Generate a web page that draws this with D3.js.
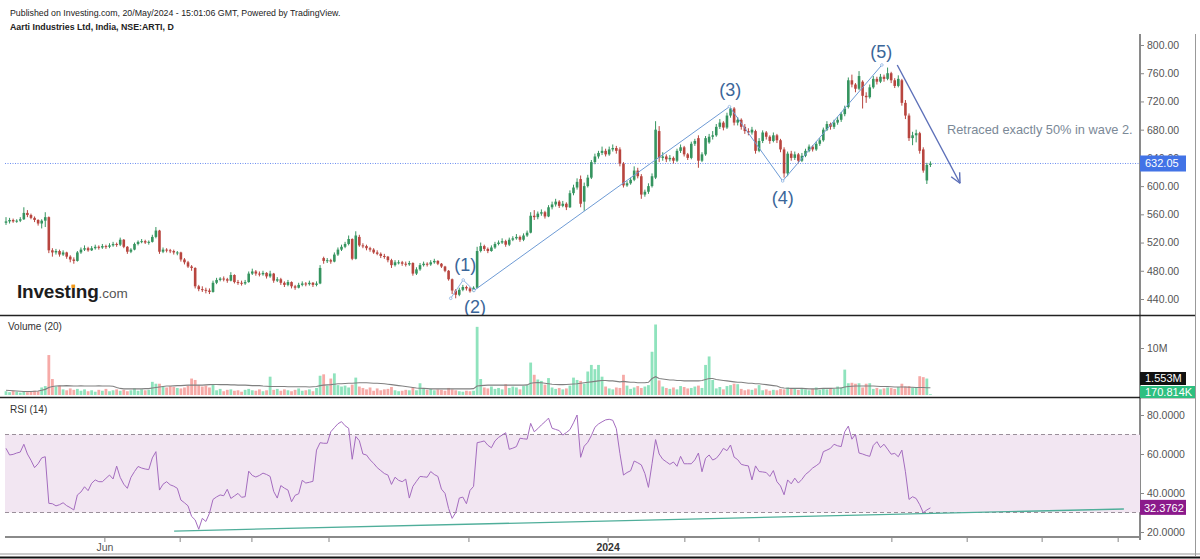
<!DOCTYPE html>
<html><head><meta charset="utf-8">
<script src="https://cdn.jsdelivr.net/npm/d3@7"></script>
<style>body{margin:0;background:#fff}svg{display:block;font-family:"Liberation Sans",Arial,sans-serif}</style>
</head><body><svg id="c" width="1200" height="559"></svg>
<script>
const opens = [548,550,552,550,551,553,562,559,555,552,547,551,556,509,506,508,503,506,500,496,
494,506,510,512,509,512,514,513,515,514,516,518,517,524,514,507,510,518,521,522,
520,521,528,537,507,510,509,508,506,506,496,492,486,484,458,454,453,452,450,463,
467,469,468,466,474,464,463,462,464,476,479,476,475,477,472,476,466,468,463,460,
464,458,456,460,462,461,463,460,462,498,494,495,493,503,510,514,518,525,497,528,
516,515,512,510,506,504,501,500,495,488,492,492,490,489,491,476,482,488,490,489,
492,494,490,486,480,468,452,446,453,457,455,451,456,508,515,511,508,513,518,520,
522,517,524,526,528,524,530,534,558,556,561,563,557,570,574,578,572,575,570,590,
598,610,578,600,612,634,642,647,650,645,652,654,652,632,601,604,609,622,614,588,
592,600,612,678,640,642,638,640,636,650,655,645,640,660,668,636,645,662,670,672,
684,690,683,700,710,690,694,684,678,676,678,650,664,676,670,664,672,665,652,618,
646,640,645,636,643,650,656,652,660,665,680,688,684,690,694,702,712,750,744,738,
748,728,726,740,752,748,755,752,760,750,742,750,718,700,668,672,675,652,608,630];
const highs = [556,555,554,553,556,570,566,561,557,553,553,563,557,512,511,510,509,507,502,499,
508,513,516,514,515,517,516,518,517,519,521,520,527,525,515,512,520,523,525,524,
523,531,542,538,513,512,511,510,508,507,498,494,488,485,460,458,456,455,466,470,
471,472,470,478,475,467,466,467,479,483,481,479,480,478,480,477,471,470,465,467,
465,460,463,465,464,466,464,465,488,500,498,497,506,513,517,521,530,526,536,531,
519,517,514,512,509,506,504,501,497,495,495,494,493,494,492,485,491,493,492,495,
497,495,491,487,481,469,454,456,460,459,457,458,514,520,517,513,516,521,523,526,
524,527,529,532,530,533,537,563,566,564,567,565,573,578,582,580,579,577,594,602,
611,615,605,616,637,646,650,656,653,656,659,657,655,634,607,612,628,626,617,595,
604,618,692,685,648,645,644,642,653,659,657,647,663,667,672,648,671,674,678,688,
695,692,704,713,712,698,696,688,682,684,680,668,679,678,672,676,674,667,655,649,
650,649,647,647,653,659,658,663,668,683,692,690,694,698,705,714,754,758,746,763,
750,733,744,756,755,759,758,768,762,753,757,752,722,703,677,680,677,655,633,635];
const lows = [545,547,548,548,549,552,556,553,549,544,540,542,505,500,503,500,501,497,492,490,
493,504,508,507,508,510,510,511,511,512,514,514,515,512,504,505,509,516,519,518,
517,520,526,504,505,506,505,503,502,493,489,484,480,455,451,450,448,447,449,461,
465,465,463,465,462,460,459,460,463,474,473,472,473,469,470,463,464,460,457,458,
455,453,455,458,458,459,457,458,461,490,491,490,492,501,508,512,516,495,496,514,
512,509,507,504,502,498,497,492,484,486,489,487,486,487,473,474,480,486,486,487,
490,488,484,478,466,447,441,444,451,452,449,450,455,506,508,505,507,511,516,518,
514,515,522,524,521,522,528,533,552,553,558,554,556,567,571,569,570,566,569,587,
595,570,565,598,610,631,639,644,642,643,649,646,628,598,599,602,607,611,582,585,
589,598,610,634,636,634,635,632,634,647,642,637,638,657,626,634,643,660,666,670,
681,679,681,697,686,686,680,674,672,673,646,648,661,666,660,662,661,648,612,614,
636,637,632,634,641,648,649,650,657,663,678,680,681,687,691,699,710,740,733,736,
710,718,724,738,744,746,748,750,746,739,740,714,695,664,658,662,646,619,603,627];
const closes = [550,552,550,551,553,562,559,555,552,547,551,556,509,506,508,503,506,500,496,494,
506,510,512,509,512,514,513,515,514,516,518,517,524,514,507,510,518,521,522,520,
521,528,537,507,510,509,508,506,506,496,492,486,484,458,454,453,452,450,463,467,
469,468,466,474,464,463,462,464,476,479,476,475,477,472,476,466,468,463,460,464,
458,456,460,462,461,463,460,462,484,494,495,493,503,510,514,518,525,497,530,516,
515,512,510,506,504,501,500,495,488,492,492,490,489,491,476,482,488,490,489,492,
494,490,486,480,468,452,446,453,457,455,451,456,508,515,511,508,513,518,520,522,
517,524,526,528,524,530,534,558,556,561,563,557,570,574,578,572,575,570,590,598,
606,575,600,612,634,642,647,650,645,652,654,650,632,601,604,609,622,614,588,592,
600,614,680,640,642,638,640,636,650,655,645,640,660,664,636,645,668,670,672,684,
690,683,700,710,690,694,684,678,676,680,650,664,676,670,664,672,665,652,618,646,
640,645,636,643,650,656,652,660,665,680,688,684,690,694,702,710,750,744,738,756,
728,726,740,752,748,755,752,760,750,742,752,718,700,668,672,675,650,622,630,632.05];
// volume in millions
const volumes = [0.8,0.6,0.9,0.7,0.5,0.8,0.6,0.7,0.9,0.8,1.6,1.9,8.5,3.4,1.8,2.0,1.2,1.0,1.4,1.1,
1.3,0.9,1.2,0.8,1.0,0.7,1.1,0.9,1.3,0.8,1.0,1.2,0.9,1.1,0.8,1.0,1.4,0.9,1.2,1.0,
1.1,2.8,2.4,2.4,1.8,1.6,1.9,1.7,1.5,1.4,1.6,2.0,3.5,3.2,2.1,1.8,2.0,1.6,2.2,1.0,
1.3,0.8,1.1,1.2,0.9,1.0,0.7,1.1,1.3,1.0,0.9,1.2,0.8,1.0,3.9,1.1,1.3,0.9,1.2,1.0,
0.8,1.1,1.4,0.9,1.0,1.2,0.8,1.5,4.1,4.4,2.0,3.5,4.6,2.1,1.8,2.0,1.6,2.2,3.7,1.8,
1.5,1.2,1.6,0.9,1.4,1.0,1.2,1.3,1.7,1.0,0.8,0.9,1.1,1.0,1.6,1.0,2.5,1.4,1.1,1.3,
1.0,1.2,1.1,0.9,1.5,1.2,1.0,0.8,0.7,0.9,0.8,0.9,14.5,3.4,1.6,1.4,1.8,1.3,1.5,1.2,
2.3,1.5,1.8,1.6,1.2,1.9,2.1,6.9,4.3,3.3,3.0,2.2,3.6,1.6,1.3,1.5,1.2,1.4,2.0,3.7,
3.2,3.0,2.4,5.0,6.4,5.5,6.4,3.9,1.8,1.4,1.2,1.6,1.5,4.3,2.0,1.3,1.6,1.9,1.5,1.8,
2.1,9.2,15.0,3.1,1.8,1.5,1.3,1.6,1.2,1.9,1.7,1.4,1.5,1.8,2.0,1.5,6.4,8.2,3.2,1.4,
1.7,1.2,1.9,2.1,2.4,2.3,1.3,1.0,1.2,1.1,1.4,2.1,1.0,1.2,0.9,1.1,1.0,1.3,1.2,1.6,
1.4,1.3,1.1,1.5,1.2,1.0,1.3,1.6,1.1,1.4,1.2,1.5,1.3,1.8,1.6,5.4,2.5,2.6,2.4,2.5,
1.6,2.4,2.5,1.3,1.5,1.2,1.4,1.6,1.5,1.3,1.7,2.4,1.8,1.9,1.6,1.7,4.0,3.8,3.5,0.170814];
const volumeMA = [1.0,0.95,0.9,0.85,0.8,0.75,0.75,0.75,0.8,0.85,1.0,1.2,1.6,1.8,1.9,1.95,1.95,2.0,1.95,1.9,
1.9,1.95,1.9,1.9,1.9,1.9,1.95,1.9,1.9,1.9,1.85,1.6,1.4,1.3,1.3,1.3,1.3,1.3,1.3,1.35,
1.35,1.5,1.6,1.7,1.8,1.9,1.9,1.95,2.0,2.0,2.05,2.1,2.1,2.1,2.1,2.1,2.15,2.2,2.25,2.25,
2.2,2.2,2.2,2.15,2.15,2.1,2.1,2.1,2.05,2.0,2.0,2.0,1.9,1.85,1.8,1.8,1.8,1.8,1.8,1.75,
1.75,1.75,1.75,1.75,1.75,1.7,1.75,1.8,2.0,2.1,2.15,2.2,2.3,2.4,2.4,2.45,2.5,2.5,2.55,2.6,
2.6,2.6,2.55,2.5,2.5,2.45,2.4,2.3,2.2,2.1,2.0,1.9,1.8,1.7,1.6,1.5,1.45,1.4,1.35,1.3,
1.3,1.3,1.3,1.3,1.3,1.3,1.3,1.3,1.3,1.3,1.3,1.35,1.9,2.0,2.05,2.1,2.1,2.1,2.1,2.1,
2.1,2.1,2.1,2.1,2.1,2.1,2.15,2.5,2.6,2.65,2.6,2.5,2.4,2.3,2.25,2.2,2.2,2.25,2.3,2.35,
2.4,2.5,2.6,2.7,2.8,2.9,3.0,3.1,3.1,3.0,3.0,2.9,2.8,2.9,2.8,2.7,2.7,2.6,2.6,2.6,
2.7,3.5,3.9,3.5,3.4,3.3,3.2,3.2,3.1,3.1,3.0,3.0,3.0,3.0,3.0,3.1,3.3,3.5,3.5,3.3,
3.2,3.1,3.0,2.9,2.8,2.7,2.7,2.6,2.5,2.5,2.4,2.4,2.3,2.2,2.1,2.0,1.9,1.6,1.5,1.45,
1.4,1.4,1.4,1.4,1.35,1.3,1.3,1.3,1.35,1.4,1.4,1.4,1.45,1.5,1.5,1.7,1.8,1.85,1.9,1.9,
1.9,1.9,1.9,1.9,1.85,1.8,1.8,1.8,1.75,1.7,1.7,1.7,1.7,1.65,1.65,1.6,1.6,1.6,1.55,1.553];
const rsi = [62.9,59.5,59.8,60.5,61,65,60,56.8,53,55,58,58.6,34.7,34.5,33.4,34,35,33.5,32.5,31.3,
39,40.5,43.2,41.2,45,46.7,45.8,45.8,47.5,49.2,47.2,53.8,48,44.5,42.4,48,51,53.6,52.8,52.3,
52,58,61.2,41.5,44.5,45.8,44.2,43.5,42.4,36.4,35,33.4,28,26.2,21.4,27,25.4,29.6,36.7,38,
39,38.6,41.9,37.2,38.5,39.8,37.8,38.1,51.2,49,48.2,49,50.2,49.5,48.5,40.8,37.4,43.8,42.5,41.5,
35.5,38.8,39.6,46.5,45.1,45.5,46,62,65.8,65.5,65.5,71.4,73.5,75.5,76.6,74.5,73.2,57.3,69,66.8,
60,59.5,57,55.2,53,51.5,50,49.2,44.4,48.1,46.5,45.8,47.1,37.4,43.4,46,48.5,48.3,48.1,51,
49.5,48.5,42,39.8,32.1,27,30,37.4,37.9,34.5,41.3,43.4,65.8,66.2,66.7,64.5,63.2,66.7,68.5,69.7,
70.9,62.4,63,63.8,68.1,67.8,67.6,75.7,71.4,73,74.9,76.5,78.4,73.2,72.6,72,69.7,71,72.5,76,
80,58.3,64,66,69.4,73.7,75.4,76.5,77.5,77.8,77.3,73,60.3,49.2,50.5,51.4,56.4,55.5,54.4,50,
42.9,55,67.4,60,57.3,56,54.7,55.9,53.7,58.8,55,55,55,57,60.5,50.9,57.8,59.5,56.9,57.8,
60,62.9,61.7,64.6,58.4,57.1,54.7,54.2,53.9,46.7,53.9,51,50.8,50.5,48.5,51.5,45.8,43.6,39.1,46.7,
44.7,47.6,45.1,47,49.5,51,52.8,54,55.4,61.2,62,62.9,65,64.2,63.8,71.4,74.3,67.6,70.1,60.5,
60,59.3,58.8,64.4,66.3,63.3,65,62.5,59.9,60.3,58.6,62,50.9,36.7,38.1,37.2,34,29.9,31.3,32.3762];

const priceTicks = [440,480,520,560,600,640,680,720,760,800];
const volumeTicks = [10];
const rsiTicks = [20,40,60,80];
const timeTickIndex = [27.7,48.8,68.9,90.5,129.7,168.7,190.2,211,248.2,269.3,290.3,311.6];
const timeTickLabels = ["Jun","","","","","2024","","","","","",""];
const lastPrice = 632.05;
// Elliott wave annotation (bar index, price)
const waveIdx = [124.6,128.1,131.1,202.7,217.6,245.4];
const wavePrice = [441,467,452,712.6,607.3,771.7];
const waveLabels = ["(1)","(2)","(3)","(4)","(5)"];
const waveLabelIdx = [128.7,131.4,202.9,217.6,245.2];
const waveLabelPrice = [479.7,420,727.7,574.6,780.9];
const arrowIdx = [249.7,267.3];
const arrowPrice = [771.7,604];
const noteText = "Retraced exactly 50% in wave 2.";
const rsiTrendIdx = [47.1,313.2];
const rsiTrendVal = [20.5,31.8];

const svg = d3.select("#c");
const AX = 1140;
const x = d3.scaleLinear().domain([0,318]).range([6,1141]);
const y = d3.scaleLinear().domain([440,800]).range([299,45]);
const yv = d3.scaleLinear().domain([0,10]).range([395,348]);
const yr = d3.scaleLinear().domain([20,80]).range([532,415]);
const UP = "#35945f", DN = "#b8453f";

// header
svg.append("text").attr("x",10).attr("y",15.5).attr("font-size",8.8).attr("fill","#222")
  .text("Published on Investing.com, 20/May/2024 - 15:01:06 GMT, Powered by TradingView.");
svg.append("text").attr("x",10).attr("y",29.5).attr("font-size",8.8).attr("font-weight","bold").attr("fill","#222")
  .text("Aarti Industries Ltd, India, NSE:ARTI, D");

const defs = svg.append("defs");
defs.append("clipPath").attr("id","mainclip").append("rect").attr("x",0).attr("y",34).attr("width",AX).attr("height",281);

// watermark logo
const logo = svg.append("text").attr("x",17).attr("y",298).attr("fill","#1d1d1d");
const logoMain = logo.append("tspan").attr("font-size",19).attr("font-weight","bold").attr("letter-spacing",-0.2).text("Investing");
logo.append("tspan").attr("font-size",13.5).attr("fill","#555").text(".com");
try {
  const ext = logoMain.node().getExtentOfChar(6);
  svg.append("rect").attr("x",ext.x+ext.width/2-1.8).attr("y",ext.y+ext.height*0.17)
    .attr("width",3.6).attr("height",3.4).attr("fill","#f29a1d");
} catch(e) {}

const main = svg.append("g").attr("clip-path","url(#mainclip)");
// last price dotted line
main.append("line").attr("x1",5).attr("x2",AX).attr("y1",y(lastPrice)).attr("y2",y(lastPrice))
  .attr("stroke","#6d8ff0").attr("stroke-width",1).attr("stroke-dasharray","1,1.5");

// candles
const idx = d3.range(closes.length);
const cg = main.append("g");
cg.selectAll("line.w").data(idx).join("line")
  .attr("x1",i=>x(i)).attr("x2",i=>x(i)).attr("y1",i=>y(highs[i])).attr("y2",i=>y(lows[i]))
  .attr("stroke",i=>closes[i]>=opens[i]?UP:DN).attr("stroke-width",1);
cg.selectAll("rect").data(idx).join("rect")
  .attr("x",i=>x(i)-1.3).attr("width",2.6)
  .attr("y",i=>y(Math.max(opens[i],closes[i])))
  .attr("height",i=>Math.max(1,Math.abs(y(opens[i])-y(closes[i]))))
  .attr("fill",i=>closes[i]>=opens[i]?UP:DN);

// wave lines
const wline = d3.line().x(d=>x(d[0])).y(d=>y(d[1]));
const wpts = waveIdx.map((v,k)=>[v,wavePrice[k]]);
main.append("path").attr("d",wline(wpts.slice(0,3))).attr("fill","none").attr("stroke","#8db3e2").attr("stroke-width",1);
main.append("path").attr("d",wline(wpts.slice(2))).attr("fill","none").attr("stroke","#6e9bd5").attr("stroke-width",1);
main.selectAll("circle.wp").data(wpts).join("circle").attr("cx",d=>x(d[0])).attr("cy",d=>y(d[1])).attr("r",1.3)
  .attr("fill","#fff").attr("stroke","#8db3e2").attr("stroke-width",0.8);
// arrow
const ax1 = x(arrowIdx[0]), ay1 = y(arrowPrice[0]), ax2 = x(arrowIdx[1]), ay2 = y(arrowPrice[1]);
main.append("line").attr("x1",ax1).attr("y1",ay1).attr("x2",ax2).attr("y2",ay2).attr("stroke","#5c6fb8").attr("stroke-width",1.4);
const ang = Math.atan2(ay2-ay1, ax2-ax1);
[0.45,-0.45].forEach(da=>{
  main.append("line").attr("x1",ax2).attr("y1",ay2)
    .attr("x2",ax2-11*Math.cos(ang+da)).attr("y2",ay2-11*Math.sin(ang+da))
    .attr("stroke","#5c6fb8").attr("stroke-width",1.4);
});
// wave labels
main.selectAll("text.wl").data(waveLabels).join("text")
  .attr("x",(d,k)=>x(waveLabelIdx[k])).attr("y",(d,k)=>y(waveLabelPrice[k]))
  .attr("text-anchor","middle").attr("font-size",18).attr("fill","#3b6699").text(d=>d);
main.append("text").attr("x",947).attr("y",134).attr("font-size",12.8).attr("fill","#7b8997").text(noteText);

// price axis
svg.append("line").attr("x1",AX).attr("x2",AX).attr("y1",34).attr("y2",540).attr("stroke","#8a8a8a").attr("stroke-width",2);
const pa = svg.append("g").attr("transform",`translate(${AX},0)`)
  .call(d3.axisRight(y).tickValues(priceTicks).tickFormat(d3.format(".2f")).tickSize(4).tickPadding(3));
const va = svg.append("g").attr("transform",`translate(${AX},0)`)
  .call(d3.axisRight(yv).tickValues(volumeTicks).tickFormat(d=>d+"M").tickSize(4).tickPadding(3));
const ra = svg.append("g").attr("transform",`translate(${AX},0)`)
  .call(d3.axisRight(yr).tickValues(rsiTicks).tickFormat(d3.format(".4f")).tickSize(4).tickPadding(3));
[pa,va,ra].forEach(g=>{
  g.select(".domain").remove();
  g.selectAll("line").attr("stroke","#888");
  g.selectAll("text").attr("fill","#555").attr("font-size",10.5).attr("font-family","'Liberation Sans',Arial,sans-serif");
});

function tag(yc, w, bg, txt){
  svg.append("rect").attr("x",AX).attr("y",yc-8).attr("width",w).attr("height",16).attr("fill",bg);
  svg.append("text").attr("x",AX+5).attr("y",yc+4).attr("font-size",11).attr("fill","#fff").text(txt);
}
tag(y(lastPrice), 46, "#4273e6", d3.format(".2f")(lastPrice));

// separators
svg.append("line").attr("x1",0).attr("x2",1195).attr("y1",315.5).attr("y2",315.5).attr("stroke","#222").attr("stroke-width",1.5);
svg.append("line").attr("x1",0).attr("x2",1195).attr("y1",397.5).attr("y2",397.5).attr("stroke","#222").attr("stroke-width",1.5);

// volume pane
svg.append("text").attr("x",8).attr("y",330).attr("font-size",10).attr("fill","#333").text("Volume (20)");
const vg = svg.append("g");
vg.selectAll("rect").data(idx).join("rect")
  .attr("x",i=>x(i)-1.4).attr("width",2.8)
  .attr("y",i=>yv(volumes[i])).attr("height",i=>yv(0)-yv(volumes[i]))
  .attr("fill",i=>closes[i]>=opens[i]?"#8fe3bd":"#f6aaa7");
vg.append("path").datum(idx).attr("d",d3.line().x(i=>x(i)).y(i=>yv(volumeMA[i])))
  .attr("fill","none").attr("stroke","#808080").attr("stroke-width",1.1);
svg.append("rect").attr("x",AX).attr("y",372).attr("width",46).attr("height",13).attr("fill","#111");
svg.append("text").attr("x",AX+5).attr("y",382).attr("font-size",11).attr("fill","#fff").text(volumeMA[volumeMA.length-1]+"M");
svg.append("rect").attr("x",AX).attr("y",386).attr("width",55).attr("height",12).attr("fill","#2dbf80");
svg.append("text").attr("x",AX+5).attr("y",396).attr("font-size",11).attr("fill","#fff").text(d3.format(".3f")(volumes[volumes.length-1]*1000)+"K");

// RSI pane
svg.append("text").attr("x",10).attr("y",413).attr("font-size",10).attr("fill","#333").text("RSI (14)");
svg.append("rect").attr("x",5).attr("y",yr(70)).attr("width",AX-5).attr("height",yr(30)-yr(70)).attr("fill","#f2e6f2");
[70,30].forEach(v=>svg.append("line").attr("x1",5).attr("x2",AX).attr("y1",yr(v)).attr("y2",yr(v))
  .attr("stroke","#9a8f9a").attr("stroke-width",1).attr("stroke-dasharray","4,3"));
svg.append("path").datum(idx).attr("d",d3.line().x(i=>x(i)).y(i=>yr(rsi[i])))
  .attr("fill","none").attr("stroke","#a46cbf").attr("stroke-width",1);
svg.append("line").attr("x1",x(rsiTrendIdx[0])).attr("y1",yr(rsiTrendVal[0])).attr("x2",x(rsiTrendIdx[1])).attr("y2",yr(rsiTrendVal[1]))
  .attr("stroke","#4fae9a").attr("stroke-width",1.3);
svg.append("rect").attr("x",AX).attr("y",yr(rsi[rsi.length-1])-8).attr("width",46).attr("height",15).attr("fill","#8b1a8b");
svg.append("text").attr("x",AX+4).attr("y",yr(rsi[rsi.length-1])+4).attr("font-size",11).attr("fill","#fff").text(d3.format(".4f")(rsi[rsi.length-1]));

// time axis
svg.append("line").attr("x1",5).attr("x2",AX).attr("y1",537).attr("y2",537).attr("stroke","#8a8a8a").attr("stroke-width",2);
svg.selectAll("line.tt").data(timeTickIndex).join("line").attr("class","tt")
  .attr("x1",d=>x(d)).attr("x2",d=>x(d)).attr("y1",538).attr("y2",542).attr("stroke","#888");
svg.selectAll("text.tl").data(timeTickIndex).join("text").attr("class","tl")
  .attr("x",d=>x(d)).attr("y",551).attr("text-anchor","middle").attr("font-size",10.5)
  .attr("font-weight",(d,k)=>timeTickLabels[k]==="2024"?"bold":"normal")
  .attr("fill",(d,k)=>timeTickLabels[k]==="2024"?"#333":"#555").text((d,k)=>timeTickLabels[k]);

// frame bottom / right
svg.append("line").attr("x1",0).attr("x2",1200).attr("y1",554).attr("y2",554).attr("stroke","#999").attr("stroke-width",1);
svg.append("line").attr("x1",0).attr("x2",1200).attr("y1",557.5).attr("y2",557.5).attr("stroke","#111").attr("stroke-width",2);
svg.append("line").attr("x1",1195.5).attr("x2",1195.5).attr("y1",34).attr("y2",556).attr("stroke","#999").attr("stroke-width",1);
</script></body></html>
